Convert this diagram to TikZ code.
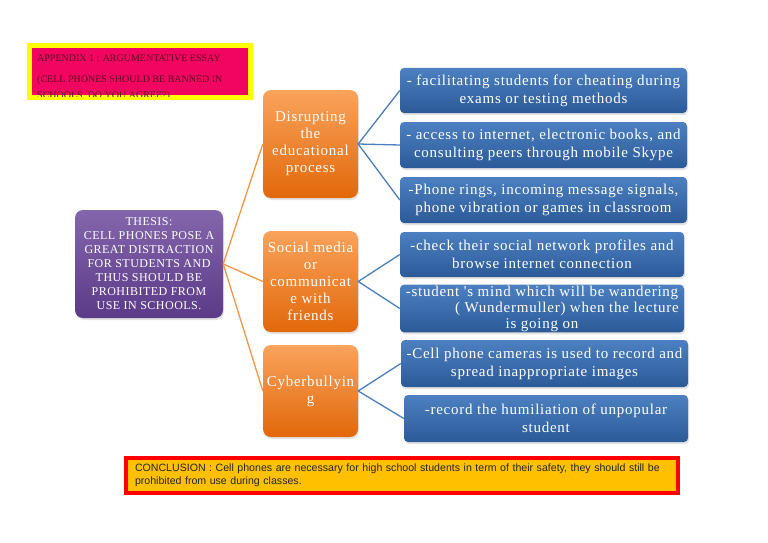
\documentclass[tikz,border=0pt]{standalone}
\usepackage{fontspec}
\setmainfont{Liberation Serif}
\newfontfamily\concfont{Liberation Sans}
\newfontfamily\wideserif[LetterSpace=5]{Liberation Serif}
\newfontfamily\thesisserif[LetterSpace=4]{Liberation Serif}
\usetikzlibrary{shadows}
\definecolor{appfill}{HTML}{F20560}
\definecolor{apptext}{HTML}{5A0822}
\definecolor{appborder}{HTML}{FFFF00}
\definecolor{purtop}{HTML}{8466AC}
\definecolor{purbot}{HTML}{5B3A88}
\definecolor{ortop}{HTML}{F9A35C}
\definecolor{orbot}{HTML}{E2680A}
\definecolor{bltop}{HTML}{4C80C0}
\definecolor{blbot}{HTML}{2C5A99}
\definecolor{orline}{HTML}{F79646}
\definecolor{blline}{HTML}{4A7EBF}
\definecolor{concfill}{HTML}{FFC000}
\definecolor{concborder}{HTML}{FF0000}
\begin{document}
\begin{tikzpicture}[x=1pt,y=-1pt,
  shad/.style={drop shadow={opacity=0.22, shadow xshift=1pt, shadow yshift=-2pt}},
  thesisbox/.style={shad, rounded corners=8pt, top color=purtop, bottom color=purbot,
    text=white, align=center, inner sep=2pt, font=\thesisserif\fontsize{12}{14}\selectfont},
  orbox/.style={shad, rounded corners=8pt, top color=ortop, bottom color=orbot,
    text=white, align=center, inner sep=1pt, minimum width=95pt,
    font=\wideserif\fontsize{15}{17}\selectfont},
  blbox/.style={shad, rounded corners=4pt, top color=bltop, bottom color=blbot,
    text=white, align=center, inner sep=1pt, font=\wideserif\fontsize{15}{18}\selectfont},
  oline/.style={draw=orline, line width=1.3pt},
  bline/.style={draw=blline, line width=1.3pt}]
\useasboundingbox[fill=white] (0,0) rectangle (768,543);

% Appendix box
\node[fill=appfill, draw=appborder, line width=5pt, minimum width=221pt, minimum height=52pt, inner sep=0pt] (appendix) at (140,71.75) {};
\begin{scope}
  \clip (32,48) rectangle (248,96);
  \node[anchor=north west, inner sep=0pt, align=left, text=apptext,
    font=\fontsize{10}{15.5}\selectfont] (apptxt) at (37,54.5)
    {APPENDIX 1 : ARGUMENTATIVE ESSAY\\[6pt](CELL PHONES SHOULD BE BANNED IN\\SCHOOLS, DO YOU AGREE?)};
\end{scope}

% Thesis
\node[thesisbox, minimum width=148pt, minimum height=108pt] (thesis) at (149,264)
  {THESIS:\\CELL PHONES POSE A\\GREAT DISTRACTION\\FOR STUDENTS AND\\THUS SHOULD BE\\PROHIBITED FROM\\USE IN SCHOOLS.};

% Orange boxes
\node[orbox, minimum height=108pt] (o1) at (310.5,144) {Disrupting\\the\\educational\\process};
\node[orbox, minimum height=101pt] (o2) at (310.5,281.5) {Social media\\or\\communicat\\e with\\friends};
\node[orbox, minimum height=92pt] (o3) at (310.5,391) {Cyberbullyin\\g};

% Blue boxes
\node[blbox, minimum width=287pt, minimum height=45pt] (b1) at (543.5,90.5)
  {- facilitating students for cheating during\\exams or testing methods};
\node[blbox, minimum width=287pt, minimum height=46pt] (b2) at (543.5,145)
  {- access to internet, electronic books, and\\consulting peers through mobile Skype};
\node[blbox, minimum width=287pt, minimum height=46pt] (b3) at (543.5,200)
  {-Phone rings, incoming message signals,\\phone vibration or games in classroom};
\node[blbox, minimum width=284pt, minimum height=45pt] (b4) at (542,254.5)
  {-check their social network profiles and\\browse internet connection};
\node[blbox, minimum width=284pt, minimum height=47pt, font=\wideserif\fontsize{15}{16}\selectfont] (b5) at (542,308.5)
  {-student 's mind which will be wandering\\\hspace*{50pt}( Wundermuller) when the lecture\\is going on};
\node[blbox, minimum width=287pt, minimum height=47pt] (b6) at (544.5,363.5)
  {-Cell phone cameras is used to record and\\spread inappropriate images};
\node[blbox, minimum width=284pt, minimum height=47pt] (b7) at (546,418.5)
  {-record the humiliation of unpopular\\student};

% Connectors
\draw[oline] (thesis.east) -- (o1.west);
\draw[oline] (thesis.east) -- (o2.west);
\draw[oline] (thesis.east) -- (o3.west);
\draw[bline] (o1.east) -- (b1.west);
\draw[bline] (o1.east) -- (b2.west);
\draw[bline] (o1.east) -- (b3.west);
\draw[bline] (o2.east) -- (b4.west);
\draw[bline] (o2.east) -- (b5.west);
\draw[bline] (o3.east) -- (b6.west);
\draw[bline] (o3.east) -- (b7.west);

% Conclusion
\node[fill=concfill, draw=concborder, line width=4pt, minimum width=552pt, minimum height=35pt,
  text width=534pt, inner xsep=9pt, align=left, text=black!85,
  font=\concfont\fontsize{10.6}{13}\selectfont] (conc) at (402,475.5)
  {CONCLUSION : Cell phones are necessary for high school students in term of their safety, they should still be\\prohibited from use during classes.};
\end{tikzpicture}
\end{document}
